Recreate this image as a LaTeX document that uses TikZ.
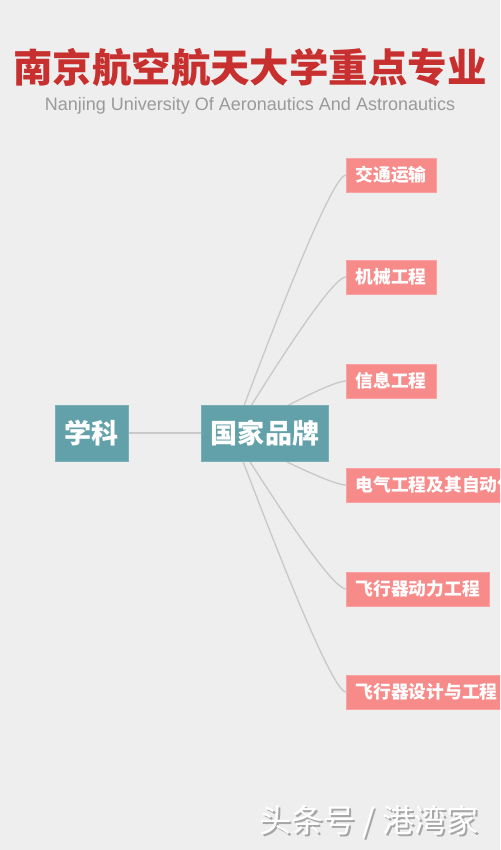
\documentclass[tikz,border=0pt]{standalone}
\usepackage{fontspec}
\newfontfamily\cjk{Noto Sans CJK SC}
\setmainfont{Liberation Sans}
\usetikzlibrary{calc,backgrounds}
\definecolor{bgc}{HTML}{EEEEEE}
\definecolor{titlered}{HTML}{C7302E}
\definecolor{subgray}{HTML}{9A9A9A}
\definecolor{tealc}{HTML}{62A1AA}
\definecolor{salmon}{HTML}{F78B8A}
\definecolor{linkc}{HTML}{C9C9C9}
\tikzset{
  hubbox/.style={fill=tealc, draw=tealc!85!white, line width=0.6pt, text=white, font=\cjk\bfseries\fontsize{20.3}{24}\selectfont, minimum height=42pt, inner xsep=7pt, inner ysep=0pt},
  leafbox/.style={fill=salmon, draw=salmon!80!white, line width=0.6pt, text=white, font=\cjk\bfseries\fontsize{13.3}{16}\selectfont, minimum height=25.5pt, inner xsep=7pt, inner ysep=0pt, anchor=west},
  link/.style={draw=linkc, line width=1pt}
}
\begin{document}
\begin{tikzpicture}[x=0.75pt,y=-0.75pt]
\useasboundingbox (0,0) rectangle (500,850);
\clip (0,0) rectangle (500,850);
\node[text=titlered, font=\cjk\bfseries\fontsize{29.6}{34}\selectfont] (title) at (250,67) {南京航空航天大学重点专业};
\node[text=subgray, font=\fontsize{13.5}{16}\selectfont] (sub) at (250,106) {Nanjing University Of Aeronautics And Astronautics};
\node[hubbox] (xk) at (91.5,433) {学科};
\node[hubbox] (gj) at (265,433) {国家品牌};
\node[leafbox] (l1) at (346,175) {交通运输};
\node[leafbox] (l2) at (346,277) {机械工程};
\node[leafbox] (l3) at (346,381) {信息工程};
\node[leafbox] (l4) at (346,485) {电气工程及其自动化};
\node[leafbox] (l5) at (346,589) {飞行器动力工程};
\node[leafbox] (l6) at (346,692) {飞行器设计与工程};
\coordinate (s) at (233,435);
\node[text=gray!70, font=\cjk\fontsize{24}{28}\selectfont] (wm0) at (370.8,823.8) {头条号 / 港湾家};
\node[text=white, font=\cjk\fontsize{24}{28}\selectfont] (wm) at (369,822) {头条号 / 港湾家};
\begin{scope}[on background layer]
\fill[bgc] (0,0) rectangle (500,850);
\draw[link] (xk.east) -- (gj.west);
\foreach \n/\y in {l1/175,l2/277,l3/381,l4/485,l5/589,l6/692}
  \draw[link] (s) .. controls ($(s)!0.667!(330,\y)$) and ($(\n.west)!0.667!(330,\y)$) .. (\n.west);
\end{scope}
\end{tikzpicture}
\end{document}
